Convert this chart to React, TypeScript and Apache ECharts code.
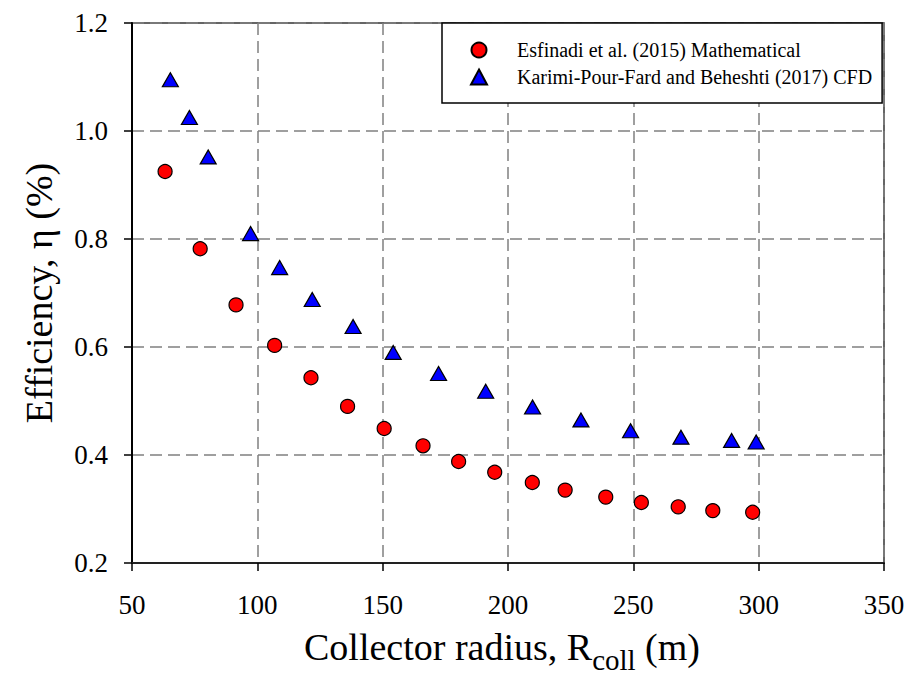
import React, { useEffect, useRef } from "react";
import * as echarts from "echarts";

const xTicks = [50, 100, 150, 200, 250, 300, 350];
const yTicks = [0.2, 0.4, 0.6, 0.8, 1.0, 1.2];

const mathName = "Esfinadi et al. (2015) Mathematical";
const mathX = [63.2, 77.2, 91.5, 106.9, 121.4, 136.0, 150.6, 166.1, 180.3, 194.7, 209.7, 222.8, 239.0, 253.2, 267.9, 281.7, 297.6];
const mathY = [0.925, 0.782, 0.678, 0.603, 0.543, 0.49, 0.449, 0.417, 0.388, 0.368, 0.349, 0.335, 0.322, 0.312, 0.304, 0.297, 0.294];

const cfdName = "Karimi-Pour-Fard and Beheshti (2017) CFD";
const cfdX = [65.3, 72.9, 80.4, 97.3, 108.9, 121.9, 138.2, 154.2, 172.3, 191.1, 209.8, 229.1, 248.9, 269.0, 289.2, 299.0];
const cfdY = [1.095, 1.025, 0.952, 0.81, 0.747, 0.688, 0.638, 0.59, 0.551, 0.518, 0.489, 0.465, 0.445, 0.433, 0.427, 0.424];

const FONT = "Liberation Serif";

export default function App() {
  const ref = useRef<HTMLDivElement>(null);
  useEffect(() => {
    if (!ref.current) return;
    const chart = echarts.init(ref.current, null, { renderer: "svg" });
    const xMin = xTicks[0];
    const xMax = xTicks[xTicks.length - 1];
    const xStep = xTicks[1] - xTicks[0];
    const yMin = yTicks[0];
    const yMax = yTicks[yTicks.length - 1];
    const yStep = 0.2;
    const labelStyle = {
      fontFamily: FONT,
      fontSize: 27,
      color: "#000000",
      fontStyle: "normal",
      fontWeight: "normal",
    };
    chart.setOption({
      animation: false,
      backgroundColor: "#ffffff",
      textStyle: { fontFamily: FONT },
      grid: {
        left: 132,
        top: 23,
        right: 26,
        bottom: 121,
        show: true,
        borderColor: "#333333",
        borderWidth: 1.5,
        containLabel: false,
      },
      legend: {
        orient: "vertical",
        left: 442,
        top: 23,
        padding: [17, 10, 16, 28],
        itemGap: 7,
        itemWidth: 16,
        itemHeight: 15,
        borderColor: "#000000",
        borderWidth: 1.5,
        backgroundColor: "#ffffff",
        textStyle: {
          fontFamily: FONT,
          fontSize: 20,
          color: "#000000",
          padding: [0, 0, 0, 25],
        },
        data: [mathName, cfdName],
      },
      xAxis: {
        type: "value",
        min: xMin,
        max: xMax,
        interval: xStep,
        name: "{a|Collector radius, R}{b|coll}{a| (m)}",
        nameLocation: "middle",
        nameGap: 65,
        nameTextStyle: {
          fontFamily: FONT,
          fontSize: 38,
          color: "#000000",
          padding: [0, 12, 0, 0],
          rich: {
            a: { fontFamily: FONT, fontSize: 38, fontStyle: "normal", fontWeight: "normal", color: "#000", verticalAlign: "bottom", padding: [0, 0, 8, 0] },
            b: { fontFamily: FONT, fontSize: 29, fontStyle: "normal", fontWeight: "normal", color: "#000", verticalAlign: "bottom" },
          },
        },
        axisLine: { show: true, onZero: false, lineStyle: { color: "#222222", width: 2 } },
        axisTick: { show: true, inside: false, length: 8, lineStyle: { color: "#000", width: 1.5 } },
        axisLabel: { margin: 28, ...labelStyle },
        splitLine: {
          show: true,
          lineStyle: { color: "#808080", width: 1.5, type: [12, 6] },
        },
      },
      yAxis: {
        type: "value",
        min: yMin,
        max: yMax,
        interval: yStep,
        name: "Efficiency, η (%)",
        nameLocation: "middle",
        nameGap: 74,
        nameTextStyle: { fontFamily: FONT, fontSize: 38, color: "#000000" },
        axisLine: { show: true, onZero: false, lineStyle: { color: "#000000", width: 2 } },
        axisTick: { show: true, inside: false, length: 8, lineStyle: { color: "#000", width: 1.5 } },
        axisLabel: {
          margin: 24,
          ...labelStyle,
          formatter: (v: number) => v.toFixed(1),
        },
        splitLine: {
          show: true,
          lineStyle: { color: "#808080", width: 1.5, type: [12, 6] },
        },
      },
      series: [
        {
          name: mathName,
          type: "scatter",
          symbol: "circle",
          symbolSize: 14,
          data: mathX.map((x, i) => [x, mathY[i]]),
          itemStyle: { color: "#ff0000", borderColor: "#000000", borderWidth: 1.2, opacity: 1 },
          z: 3,
        },
        {
          name: cfdName,
          type: "scatter",
          symbol: "triangle",
          symbolSize: [16, 14],
          data: cfdX.map((x, i) => [x, cfdY[i]]),
          itemStyle: { color: "#0000ff", borderColor: "#000000", borderWidth: 1.2, opacity: 1 },
          z: 3,
        },
      ],
    });
    return () => chart.dispose();
  }, []);
  return (
    <div
      ref={ref}
      style={{ position: "fixed", left: 0, top: 0, width: 910, height: 684, background: "#fff", fontFamily: "Liberation Serif" }}
    />
  );
}
